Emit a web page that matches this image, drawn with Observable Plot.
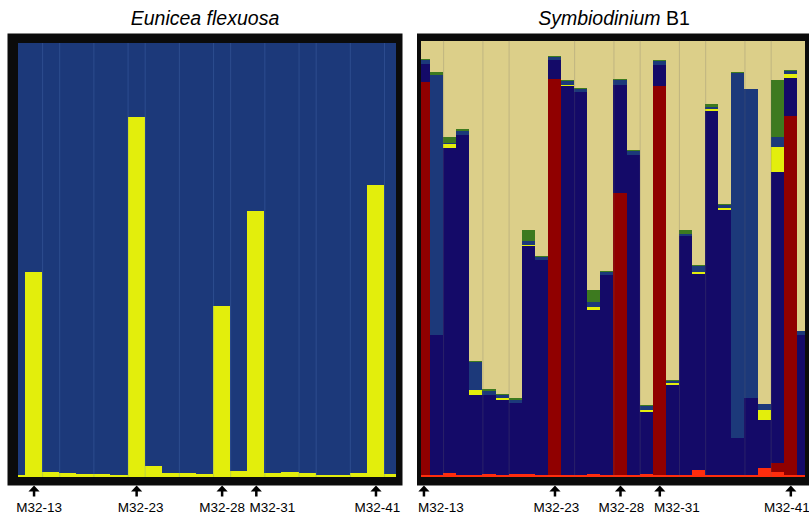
<!DOCTYPE html>
<html><head><meta charset="utf-8">
<script src="https://cdn.jsdelivr.net/npm/d3@7"></script>
<script src="https://cdn.jsdelivr.net/npm/@observablehq/plot@0.6"></script>
<style>
body{margin:0;background:#fff;}
#wrap{position:relative;width:809px;height:517px;overflow:hidden;background:#fff;font-family:"Liberation Sans",Arial,sans-serif;}
.panel{position:absolute;top:0;}
.title{position:absolute;font-size:19.5px;line-height:19px;text-align:center;color:#000;white-space:nowrap;}
</style></head><body>
<div id="wrap">
  <div class="panel" id="p1" style="left:0"></div>
  <div class="panel" id="p2" style="left:404px"></div>
  <div class="title" style="left:0;width:410px;top:9px"><i>Eunicea flexuosa</i></div>
  <div class="title" style="left:420px;width:388px;top:9px"><i>Symbiodinium</i> B1</div>
</div>
<script>
// ---- Data ----
// Eunicea flexuosa: membership in the yellow cluster per sample (rest is blue)
const eunYellow = [0.005, 0.472, 0.012, 0.009, 0.007, 0.007, 0.005, 0.829, 0.025, 0.009, 0.009, 0.007,
  0.394, 0.014, 0.613, 0.009, 0.011, 0.009, 0.005, 0.005, 0.009, 0.673, 0.007];
const eunSeparators = [2, 3, 5, 7, 8, 10, 12, 13, 15, 17, 18, 20, 22];
const eunLabelIdx = [1, 7, 12, 14, 21];

// Symbiodinium B1: cluster memberships per sample (bottom to top)
const symBrightRed = [0.004,0.004,0.010,0.004,0.004,0.006,0.004,0.007,0.007,0.004,0.004,0.004,0.004,0.007,0.004,
  0.004,0.004,0.007,0.004,0.004,0.004,0.016,0.004,0.004,0.004,0.004,0.020,0.011,0.004,0.004];
const symRed = [0.900,0,0,0,0,0,0,0,0,0,0.908,0,0,0,0,0.646,0,0,0.891,0,0,0,0,0,0,0,0,0.021,0.823,0];
const symNavy = [0.042,0.321,0.743,0.779,0.184,0.182,0.172,0.162,0.522,0.493,0.043,0.891,0.877,0.376,0.458,
  0.249,0.734,0.143,0.050,0.206,0.547,0.449,0.834,0.607,0.085,0.176,0.110,0.667,0.088,0.321];
const symYellow = [0,0,0.009,0,0.011,0,0.005,0,0.003,0,0,0.003,0,0.007,0,0,0,0.004,0,0.005,0,0.004,0.006,0.005,
  0,0,0.023,0.057,0.008,0];
const symSteel = [0.010,0.597,0.004,0.009,0.064,0.010,0.008,0.008,0.009,0.007,0.007,0.010,0.009,0.010,0.008,
  0.011,0.009,0.009,0.009,0.006,0.006,0.014,0.004,0.006,0.837,0.709,0.014,0.024,0.008,0.010];
const symGreen = [0.002,0.006,0.014,0.005,0.003,0.004,0.002,0.004,0.025,0.002,0.002,0.002,0.002,0.028,0.002,
  0.002,0.003,0.002,0.002,0.002,0.009,0.002,0.006,0.004,0.002,0,0,0.130,0.002,0];
const symTan = [0.042,0.072,0.220,0.203,0.734,0.798,0.809,0.819,0.434,0.494,0.036,0.090,0.108,0.572,0.528,
  0.088,0.250,0.835,0.044,0.777,0.434,0.515,0.146,0.374,0.072,0.111,0.833,0.090,0.067,0.665];
const symSeparators = [2, 5, 7, 12, 15, 17, 20, 22, 25, 27];
const symLabelIdx = [0, 10, 15, 18, 28];

const sampleLabels = ["M32-13", "M32-23", "M32-28", "M32-31", "M32-41"];

// ---- Styling ----
const C = {
  blue: "#1c397a", yellow: "#e3ee0c", navy: "#140a68", red: "#900000",
  brightRed: "#ff2d0d", green: "#3d7a1f", tan: "#dccf89", border: "#0b0b0b"
};

const arrowSym = {
  draw(ctx, size) {
    ctx.moveTo(0, -5.5);
    ctx.lineTo(5.6, 0.6);
    ctx.lineTo(1.25, 0.6);
    ctx.lineTo(1.25, 5.5);
    ctx.lineTo(-1.25, 5.5);
    ctx.lineTo(-1.25, 0.6);
    ctx.lineTo(-5.6, 0.6);
    ctx.closePath();
  }
};

const baseStyle = {background: "transparent", fontFamily: "Liberation Sans, Arial, sans-serif", overflow: "visible"};

// ---- Panel 1 ----
const eunData = eunYellow.map((v, i) => ({i, v}));
const eunLabels = eunLabelIdx.map((i, k) => ({i, label: sampleLabels[k]}));
const eunDx = {"M32-13": 5, "M32-23": 4, "M32-28": 0, "M32-31": 16, "M32-41": 1.5};

const p1 = Plot.plot({
  width: 404, height: 517,
  marginLeft: 18, marginRight: 8, marginTop: 43, marginBottom: 40,
  x: {type: "linear", domain: [0.59, 22.7], axis: null},
  y: {domain: [0, 1], axis: null},
  style: baseStyle,
  marks: [
    Plot.frame({fill: C.border, stroke: "none", insetLeft: -11, insetTop: -10, insetRight: -6, insetBottom: -8}),
    Plot.rectY(eunData, {x1: "i", x2: d => d.i + 1, y1: 0, y2: "v", fill: C.yellow, clip: true, shapeRendering: "crispEdges"}),
    Plot.rectY(eunData, {x1: "i", x2: d => d.i + 1, y1: "v", y2: 1, fill: C.blue, clip: true, shapeRendering: "crispEdges"}),
    Plot.ruleX(eunSeparators, {x: d => d, y1: 0, y2: 1, stroke: "#5b82c4", strokeOpacity: 0.28, strokeWidth: 1}),
    Plot.dot(eunLabels, {x: d => d.i + 0.5, y: 0, symbol: arrowSym, r: 6, fill: "#000", stroke: "none", dy: 13.5}),
    Plot.text(eunLabels, {x: d => d.i + 0.5, y: 0, text: "label", dy: 30, fontSize: 13.5, fill: "#000"})
  ]
});
document.getElementById("p1").appendChild(p1);

// ---- Panel 2 ----
const keys = [
  ["brightRed", symBrightRed, C.brightRed],
  ["red", symRed, C.red],
  ["navy", symNavy, C.navy],
  ["yellow", symYellow, C.yellow],
  ["steel", symSteel, C.blue],
  ["green", symGreen, C.green],
  ["tan", symTan, C.tan]
];
const symSegs = [];
for (let i = 0; i < symTan.length; i++) {
  let acc = 0;
  for (const [k, arr, col] of keys) {
    const v = arr[i];
    if (v > 0) symSegs.push({i, k, y1: acc, y2: acc + v, col});
    acc += v;
  }
}
const symLabels = symLabelIdx.map((i, k) => ({i, label: sampleLabels[k]}));
const symDx = {"M32-13": 17, "M32-23": 1.5, "M32-28": 1, "M32-31": 17, "M32-41": -4};

const p2 = Plot.plot({
  width: 405, height: 517,
  marginLeft: 17, marginRight: 4, marginTop: 40.5, marginBottom: 40,
  x: {type: "linear", domain: [0.313, 29.62], axis: null},
  y: {domain: [0, 1], axis: null},
  style: baseStyle,
  marks: [
    Plot.frame({fill: C.border, stroke: "none", insetLeft: -4.5, insetTop: -7.5, insetRight: -8, insetBottom: -8}),
    Plot.rectY(symSegs, {x1: "i", x2: d => d.i + 1, y1: "y1", y2: "y2", fill: d => d.col, clip: true, shapeRendering: "crispEdges"}),
    Plot.ruleX(symSeparators, {x: d => d, y1: 0, y2: 1, stroke: "#6e6a6a", strokeOpacity: 0.25, strokeWidth: 1}),
    Plot.dot(symLabels, {x: d => d.i + 0.5, y: 0, symbol: arrowSym, r: 6, fill: "#000", stroke: "none", dy: 13.5}),
    Plot.text(symLabels, {x: d => d.i + 0.5, y: 0, text: "label", dy: 30, fontSize: 13.5, fill: "#000"})
  ]
});
document.getElementById("p2").appendChild(p2);

// nudge labels horizontally to avoid overlaps (as in the original figure)
function nudge(svg, dxMap) {
  svg.querySelectorAll("text").forEach(t => {
    const s = t.textContent;
    if (dxMap[s] !== undefined) {
      const x = +t.getAttribute("x") || 0;
      t.setAttribute("x", x + dxMap[s]);
    }
  });
}
nudge(p1, eunDx);
nudge(p2, symDx);
</script>
</body></html>
